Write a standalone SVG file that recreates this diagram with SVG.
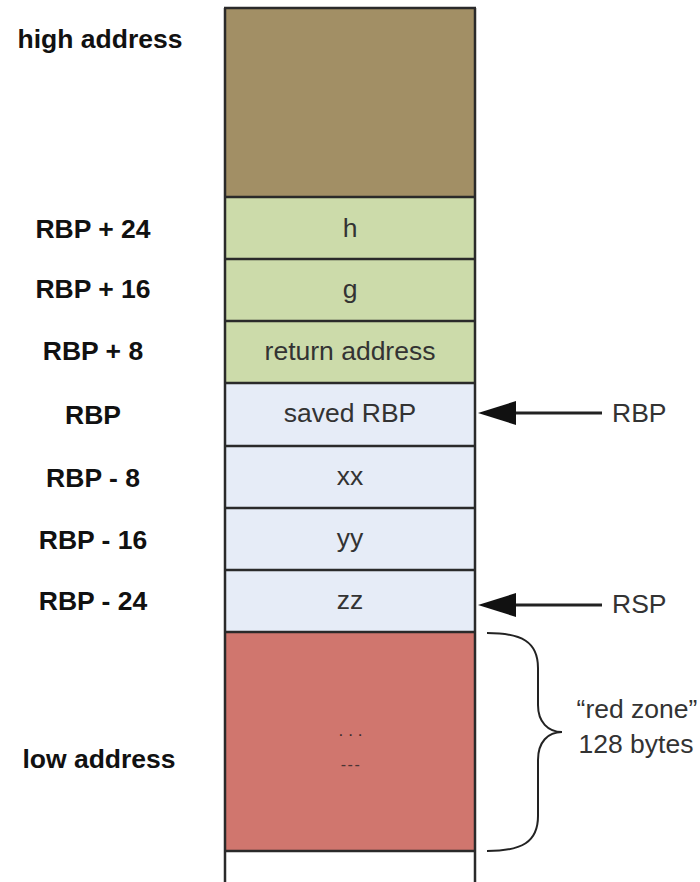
<svg xmlns="http://www.w3.org/2000/svg" width="700" height="882" viewBox="0 0 700 882">
<style>
  .cell { stroke: none; }
  .sep { stroke: #2a2a2a; stroke-width: 2.5; fill: none; }
  .ctext { font-family: "Liberation Sans", Arial, sans-serif; font-size: 26.5px; fill: #333; text-anchor: middle; }
  .ltext { font-family: "Liberation Sans", Arial, sans-serif; font-size: 26.5px; font-weight: bold; fill: #111; text-anchor: middle; }
  .rtext { font-family: "Liberation Sans", Arial, sans-serif; font-size: 26.5px; fill: #333; }
  .conn { stroke: #222; stroke-width: 3; fill: none; }
</style>
<rect width="700" height="882" fill="#fff"/>

<g id="labels-left">
  <text class="ltext" x="100" y="48">high address</text>
  <text class="ltext" x="93" y="238">RBP + 24</text>
  <text class="ltext" x="93" y="298">RBP + 16</text>
  <text class="ltext" x="93" y="360">RBP + 8</text>
  <text class="ltext" x="93" y="424">RBP</text>
  <text class="ltext" x="93" y="487">RBP - 8</text>
  <text class="ltext" x="93" y="549">RBP - 16</text>
  <text class="ltext" x="93" y="610">RBP - 24</text>
  <text class="ltext" x="99" y="768">low address</text>
</g>

<g id="high">
  <rect class="cell" x="225" y="8" width="250" height="189" fill="#A28F65"/>
</g>
<g id="cell-h">
  <rect class="cell" x="225" y="197" width="250" height="62" fill="#CCDBAA"/>
  <text class="ctext" x="350" y="237">h</text>
</g>
<g id="cell-g">
  <rect class="cell" x="225" y="259" width="250" height="62" fill="#CCDBAA"/>
  <text class="ctext" x="350" y="298">g</text>
</g>
<g id="cell-ret">
  <rect class="cell" x="225" y="321" width="250" height="62" fill="#CCDBAA"/>
  <text class="ctext" x="350" y="360">return address</text>
</g>
<g id="cell-rbp">
  <rect class="cell" x="225" y="383" width="250" height="63" fill="#E6ECF7"/>
  <text class="ctext" x="350" y="422">saved RBP</text>
</g>
<g id="cell-xx">
  <rect class="cell" x="225" y="446" width="250" height="62" fill="#E6ECF7"/>
  <text class="ctext" x="350" y="485">xx</text>
</g>
<g id="cell-yy">
  <rect class="cell" x="225" y="508" width="250" height="62" fill="#E6ECF7"/>
  <text class="ctext" x="350" y="547">yy</text>
</g>
<g id="cell-zz">
  <rect class="cell" x="225" y="570" width="250" height="62" fill="#E6ECF7"/>
  <text class="ctext" x="350" y="609">zz</text>
</g>
<g id="red-zone">
  <rect class="cell" x="225" y="632" width="250" height="219" fill="#D0766E"/>
  <text class="ctext" x="353" y="736" style="font-size:17px;letter-spacing:5px;fill:#3a2a2a">...</text>
  <text class="ctext" x="351" y="770" style="font-size:16px;letter-spacing:1.5px;fill:#4a3535">---</text>
</g>

<g id="grid">
  <line class="sep" x1="225" y1="8" x2="225" y2="882"/>
  <line class="sep" x1="475" y1="8" x2="475" y2="882"/>
  <line class="sep" x1="224" y1="8" x2="476" y2="8"/>
  <line class="sep" x1="225" y1="197" x2="475" y2="197"/>
  <line class="sep" x1="225" y1="259" x2="475" y2="259"/>
  <line class="sep" x1="225" y1="321" x2="475" y2="321"/>
  <line class="sep" x1="225" y1="383" x2="475" y2="383"/>
  <line class="sep" x1="225" y1="446" x2="475" y2="446"/>
  <line class="sep" x1="225" y1="508" x2="475" y2="508"/>
  <line class="sep" x1="225" y1="570" x2="475" y2="570"/>
  <line class="sep" x1="225" y1="632" x2="475" y2="632"/>
  <line class="sep" x1="225" y1="851" x2="475" y2="851"/>
</g>

<g id="connectors">
  <line class="conn" x1="602" y1="413" x2="515" y2="413"/>
  <path d="M478,413 L516,401 L516,425 Z" fill="#111"/>
  <line class="conn" x1="602" y1="605" x2="515" y2="605"/>
  <path d="M478,605 L516,593 L516,617 Z" fill="#111"/>
  <path d="M487,633 C522,633 538,642 538,668 L538,705 C538,722 548,732 562,732 C548,732 538,742 538,760 L538,816 C538,842 522,851 487,851" stroke="#222" stroke-width="2" fill="none"/>
</g>

<g id="labels-right">
  <text class="rtext" x="612" y="422">RBP</text>
  <text class="rtext" x="612" y="613">RSP</text>
  <text class="rtext" x="637" y="718" text-anchor="middle">“red zone”</text>
  <text class="rtext" x="636" y="753" text-anchor="middle">128 bytes</text>
</g>
</svg>
